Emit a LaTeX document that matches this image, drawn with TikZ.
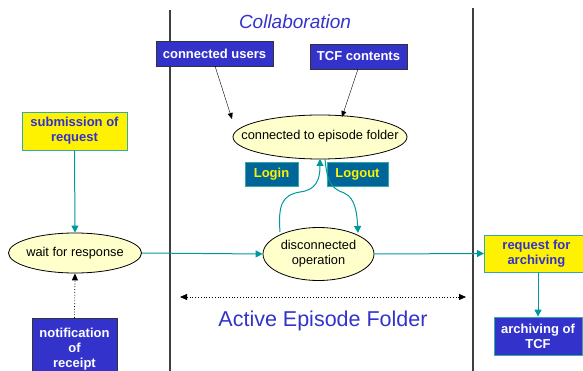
\documentclass[tikz,border=0pt]{standalone}
\usepackage{fontspec}
\setmainfont{Liberation Sans}
\usetikzlibrary{arrows.meta,positioning,shapes.geometric}
\definecolor{boxblue}{HTML}{3333CC}
\definecolor{tealc}{HTML}{009999}
\definecolor{tealb}{HTML}{33AAAA}
\definecolor{ellfill}{HTML}{FFFFCC}
\definecolor{loginfill}{HTML}{006699}
\definecolor{titleblue}{HTML}{3333CC}
\newcommand{\ztext}[1]{\makebox[0pt][c]{\begin{tabular}{@{}c@{}}#1\end{tabular}}}
\tikzset{
  bluebox/.style={draw=black!80, line width=0.8pt, fill=boxblue, text=white, font=\bfseries\fontsize{13}{15}\selectfont, inner sep=0pt, align=center},
  yelbox/.style={draw=tealb, line width=0.8pt, fill=yellow, text=boxblue, font=\bfseries\fontsize{13}{15}\selectfont, inner sep=0pt, align=center},
  logbox/.style={draw=tealb, line width=0.8pt, fill=loginfill, text=yellow, font=\bfseries\fontsize{13}{15}\selectfont, inner sep=0pt, align=center},
  ell/.style={ellipse, draw=black, line width=0.8pt, fill=ellfill, font=\fontsize{12.8}{15}\selectfont, inner sep=0pt},
  tarrow/.style={draw=tealc, line width=1pt, -{Triangle[length=7pt,width=7pt]}},
  thinarrow/.style={draw=black!70, line width=0.4pt, -{Triangle[length=6pt,width=5pt]}, black},
  dotarrow/.style={draw=black, line width=0.8pt, dotted, -{Triangle[length=7pt,width=6pt]}},
  divider/.style={draw=black!75, line width=1.6pt}
}
\begin{document}
\begin{tikzpicture}[x=1pt,y=-1pt]
\useasboundingbox (0,0) rectangle (583,371);
% dividers
\draw[divider] (170,10) -- (170,371);
\draw[divider] (473,8) -- (473,371);
% titles
\node[text=titleblue, font=\itshape\fontsize{19}{22}\selectfont] (collab) at (295,22) {Collaboration};
\node[text=titleblue, font=\fontsize{21.5}{24}\selectfont] (active) at (323,321) {Active Episode Folder};
% boxes
\node[bluebox, minimum width=117pt, minimum height=25pt] (cu) at (214.5,53.5) {connected users};
\node[bluebox, minimum width=97pt, minimum height=25pt] (tcf) at (358.5,56.5) {TCF contents};
\node[ell, minimum width=174pt, minimum height=44pt] (conn) at (320,137) {\ztext{connected to episode folder}};
\node[logbox, minimum width=53pt, minimum height=24pt] (login) at (271.5,174.5) {Login};
\node[logbox, minimum width=61pt, minimum height=24pt] (logout) at (357.5,174.5) {Logout};
\node[ell, minimum width=111pt, minimum height=53pt] (disc) at (318.5,254) {\ztext{disconnected\\operation}};
\node[ell, minimum width=133pt, minimum height=40pt] (wait) at (75,253) {\ztext{wait for response}};
\node[yelbox, minimum width=105pt, minimum height=38pt] (sub) at (74.5,131) {submission of\\request};
\node[bluebox, minimum width=85pt, minimum height=58pt, anchor=north, text depth=0pt] (notif) at (74.5,318) {notification\\of\\receipt};
\node[yelbox, minimum width=104pt, minimum height=37pt, anchor=west] (req) at (484,253.5) {request for\\archiving};
\node[yelbox, fill=boxblue, text=white, minimum width=88pt, minimum height=38pt] (arch) at (538,336) {archiving of\\TCF};
% coordinates
\coordinate (cuS) at (215,66);
\coordinate (connL) at (232,119);
\coordinate (tcfS) at (358,69);
\coordinate (connR) at (342,117);
\coordinate (dl) at (280,232);
\coordinate (cb) at (320,159);
\coordinate (cb2) at (325,159);
\coordinate (dr) at (358,233);
\coordinate (la) at (180,297);
\coordinate (ra) at (466,297);
% connectors
\draw[thinarrow] (cuS) -- (connL);
\draw[thinarrow] (tcfS) -- (connR);
\draw[tarrow] (sub.south) -- (wait.north);
\draw[dotarrow] (notif.north) -- (wait.south);
\draw[tarrow] (wait.east) -- (disc.west);
\draw[tarrow] (disc.east) -- (req.west);
\draw[tarrow] (req.south -| arch.north) -- (arch.north);
\draw[tarrow] (dl) .. controls (278,205) and (282,195) .. (300,192) .. controls (316,190) and (320,180) .. (cb);
\draw[tarrow] (cb2) .. controls (327,180) and (330,188) .. (344,193) .. controls (356,198) and (357,215) .. (dr);
\draw[dotarrow, {Triangle[length=7pt,width=6pt]}-{Triangle[length=7pt,width=6pt]}] (la) -- (ra);
\end{tikzpicture}
\end{document}
